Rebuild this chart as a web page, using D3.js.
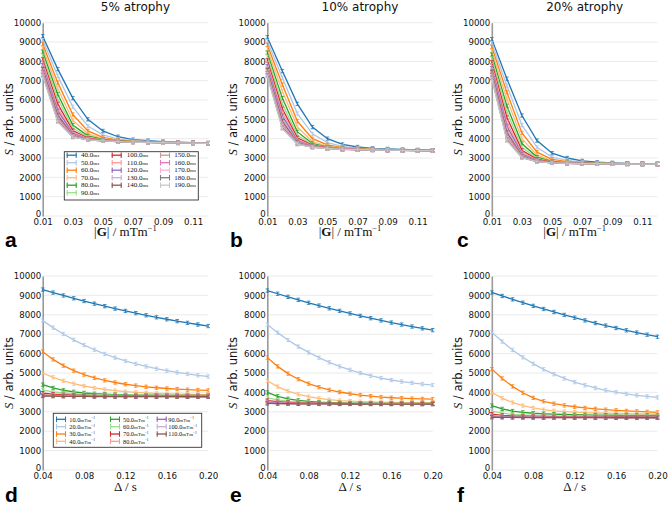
<!DOCTYPE html>
<html><head><meta charset="utf-8">
<script src="https://cdn.jsdelivr.net/npm/d3@7"></script>
<style>body{margin:0;background:#fff}svg{display:block}</style>
</head><body>
<svg id="chart" width="668" height="506"></svg>
<script>
// ---------- data ----------
const gradientValues = [0.01,0.02,0.03,0.04,0.05,0.06,0.07,0.08,0.09,0.10,0.11,0.12];
const deltaValues = [0.04,0.05,0.06,0.07,0.08,0.09,0.10,0.11,0.12,0.13,0.14,0.15,0.16,0.17,0.18,0.19,0.20];
const echoTimes = [40,50,60,70,80,90,100,110,120,130,140,150,160,170,180,190];
const gradientLabels = [10,20,30,40,50,60,70,80,90,100,110];
const yTicks = [0,1000,2000,3000,4000,5000,6000,7000,8000,9000,10000];
const gradTicks = [0.01,0.03,0.05,0.07,0.09,0.11];
const deltaTicks = [0.04,0.08,0.12,0.16,0.20];
const titles = ["5% atrophy","10% atrophy","20% atrophy"];
const errorHalf = 85;
const palette = ["#1f77b4","#aec7e8","#ff7f0e","#ffbb78","#2ca02c","#98df8a","#d62728","#ff9896",
                 "#9467bd","#c5b0d5","#8c564b","#c49c94","#e377c2","#f7b6d2","#7f7f7f","#c7c7c7"];

// S vs |G|, one row per echo time (5% atrophy)
const sigG5 = [
 [9300,7600,6100,5000,4400,4100,3950,3900,3850,3820,3800,3780],
 [9100,7250,5650,4650,4200,3980,3900,3860,3830,3810,3790,3775],
 [8900,6900,5250,4400,4070,3930,3870,3840,3820,3800,3785,3775],
 [8700,6600,4950,4250,4000,3900,3860,3830,3810,3795,3782,3772],
 [8500,6300,4700,4150,3960,3885,3850,3825,3805,3790,3780,3770],
 [8300,6050,4550,4080,3940,3875,3845,3820,3800,3788,3778,3770],
 [8100,5800,4420,4030,3925,3870,3840,3815,3798,3786,3776,3768],
 [7950,5600,4330,4000,3915,3865,3835,3812,3796,3784,3775,3768],
 [7800,5450,4260,3980,3905,3860,3832,3810,3795,3783,3774,3767],
 [7700,5300,4210,3965,3900,3857,3830,3808,3793,3782,3773,3767],
 [7600,5200,4170,3955,3895,3855,3828,3807,3792,3781,3772,3766],
 [7500,5100,4140,3950,3892,3853,3826,3806,3791,3780,3772,3766],
 [7420,5020,4120,3945,3890,3852,3825,3805,3790,3780,3771,3765],
 [7350,4960,4100,3940,3888,3851,3824,3804,3790,3779,3771,3765],
 [7300,4910,4090,3938,3887,3850,3823,3804,3789,3779,3770,3765],
 [7250,4870,4080,3936,3886,3850,3823,3803,3789,3778,3770,3764]
];
const sigG10 = [
 [9250,7500,5800,4600,4000,3700,3570,3500,3470,3440,3420,3400],
 [9050,7150,5300,4250,3800,3600,3510,3470,3445,3425,3410,3395],
 [8850,6800,4900,4000,3680,3540,3480,3450,3430,3415,3402,3392],
 [8650,6450,4600,3850,3610,3510,3465,3440,3422,3410,3398,3390],
 [8450,6100,4350,3750,3570,3490,3455,3433,3418,3406,3396,3388],
 [8250,5800,4180,3690,3545,3478,3448,3428,3414,3403,3394,3387],
 [8050,5550,4050,3650,3530,3470,3443,3425,3412,3401,3392,3386],
 [7900,5350,3960,3625,3520,3465,3440,3422,3410,3400,3391,3385],
 [7750,5180,3890,3605,3512,3461,3437,3420,3408,3399,3390,3385],
 [7650,5030,3840,3590,3506,3458,3435,3419,3407,3398,3390,3384],
 [7550,4900,3800,3580,3502,3456,3433,3418,3406,3397,3389,3384],
 [7460,4790,3770,3572,3499,3454,3432,3417,3405,3396,3389,3383],
 [7380,4700,3750,3566,3497,3453,3431,3416,3405,3396,3388,3383],
 [7320,4630,3735,3562,3495,3452,3430,3415,3404,3395,3388,3383],
 [7270,4570,3722,3559,3494,3451,3430,3415,3404,3395,3388,3382],
 [7220,4520,3712,3556,3493,3450,3429,3414,3403,3395,3387,3382]
];
const sigG20 = [
 [9150,7100,5200,3900,3250,3000,2850,2780,2750,2720,2710,2700],
 [8950,6750,4700,3550,3050,2880,2790,2750,2730,2712,2702,2695],
 [8750,6400,4300,3300,2930,2810,2760,2735,2720,2706,2698,2692],
 [8550,6050,4000,3150,2860,2775,2745,2727,2714,2702,2695,2690],
 [8350,5700,3750,3050,2820,2755,2735,2720,2710,2700,2693,2688],
 [8150,5400,3550,2980,2795,2745,2728,2716,2706,2698,2691,2687],
 [7950,5100,3400,2930,2780,2738,2723,2713,2704,2696,2690,2686],
 [7800,4850,3280,2895,2770,2733,2720,2711,2702,2695,2689,2685],
 [7650,4650,3200,2870,2763,2730,2718,2709,2701,2694,2688,2685],
 [7550,4480,3140,2852,2758,2728,2716,2708,2700,2693,2688,2684],
 [7450,4330,3100,2840,2754,2726,2715,2707,2700,2693,2687,2684],
 [7350,4200,3070,2830,2751,2724,2714,2706,2699,2692,2687,2684],
 [7270,4100,3050,2823,2749,2723,2713,2705,2699,2692,2687,2683],
 [7200,4020,3035,2818,2747,2722,2712,2705,2698,2692,2686,2683],
 [7150,3950,3022,2814,2746,2721,2712,2704,2698,2691,2686,2683],
 [7100,3890,3012,2811,2745,2720,2711,2704,2698,2691,2686,2683]
];
// S vs Delta, one row per gradient strength
const sigD5 = [
 [9300,9145,8995,8850,8710,8575,8445,8320,8200,8085,7975,7870,7770,7675,7585,7500,7420],
 [7700,7340,7010,6710,6440,6200,5980,5790,5620,5470,5340,5220,5120,5030,4950,4880,4820],
 [6100,5700,5380,5120,4920,4750,4620,4510,4420,4350,4290,4240,4200,4170,4140,4120,4100],
 [5000,4780,4600,4450,4330,4230,4150,4090,4040,4000,3970,3950,3930,3915,3905,3895,3890],
 [4400,4230,4110,4030,3970,3930,3905,3885,3870,3862,3856,3852,3849,3847,3845,3844,3843],
 [4120,4030,3970,3930,3900,3880,3866,3856,3849,3844,3840,3837,3835,3833,3832,3831,3830],
 [3960,3910,3880,3860,3845,3835,3828,3823,3819,3816,3814,3812,3811,3810,3809,3808,3808],
 [3890,3860,3842,3830,3822,3816,3811,3808,3805,3803,3801,3800,3799,3798,3797,3797,3796],
 [3850,3832,3820,3812,3806,3802,3799,3796,3794,3792,3791,3790,3789,3788,3788,3787,3787],
 [3830,3817,3808,3802,3797,3794,3791,3789,3787,3786,3785,3784,3783,3782,3782,3781,3781],
 [3815,3806,3799,3794,3790,3787,3785,3783,3782,3781,3780,3779,3778,3778,3777,3777,3776]
];
const sigD10 = [
 [9250,9085,8925,8770,8620,8475,8335,8200,8070,7945,7825,7710,7600,7495,7395,7300,7210],
 [7500,7080,6700,6360,6060,5790,5550,5340,5160,5000,4860,4740,4640,4560,4490,4430,4380],
 [5800,5340,4970,4680,4450,4270,4130,4020,3930,3860,3805,3760,3725,3700,3680,3665,3655],
 [4600,4300,4070,3900,3780,3690,3625,3580,3548,3525,3508,3496,3487,3480,3475,3471,3468],
 [4000,3800,3670,3590,3535,3500,3478,3463,3452,3445,3440,3436,3433,3431,3429,3428,3427],
 [3720,3610,3545,3505,3478,3461,3450,3442,3436,3432,3429,3427,3425,3424,3423,3422,3421],
 [3580,3520,3485,3463,3449,3440,3433,3428,3425,3422,3420,3419,3418,3417,3416,3415,3415],
 [3510,3475,3455,3442,3433,3427,3423,3420,3417,3415,3414,3413,3412,3411,3410,3410,3409],
 [3470,3450,3437,3428,3422,3418,3415,3413,3411,3410,3409,3408,3407,3406,3406,3405,3405],
 [3445,3432,3424,3418,3414,3411,3409,3407,3406,3405,3404,3403,3402,3402,3401,3401,3400],
 [3430,3421,3415,3411,3408,3406,3404,3403,3402,3401,3400,3399,3399,3398,3398,3397,3397]
];
const sigD20 = [
 [9150,8970,8795,8625,8460,8300,8145,7995,7850,7710,7575,7445,7320,7200,7085,6975,6870],
 [7100,6620,6190,5810,5480,5190,4940,4720,4530,4370,4230,4110,4010,3920,3850,3790,3740],
 [5200,4720,4310,3980,3720,3540,3420,3330,3260,3200,3150,3110,3075,3045,3020,2995,2970],
 [4000,3700,3480,3320,3200,3110,3050,3010,2980,2955,2938,2925,2915,2906,2898,2892,2885],
 [3320,3150,3040,2970,2925,2895,2875,2860,2848,2840,2833,2827,2822,2818,2815,2812,2810],
 [3030,2930,2870,2835,2812,2797,2787,2780,2775,2771,2768,2765,2763,2761,2760,2759,2758],
 [2880,2820,2790,2772,2760,2752,2746,2742,2739,2737,2735,2734,2733,2732,2731,2730,2730],
 [2800,2770,2752,2741,2734,2729,2726,2723,2721,2720,2719,2718,2717,2716,2716,2715,2715],
 [2760,2742,2731,2724,2719,2716,2713,2711,2710,2709,2708,2707,2706,2706,2705,2705,2705],
 [2735,2724,2717,2712,2709,2706,2704,2703,2702,2701,2700,2699,2699,2698,2698,2698,2697],
 [2720,2713,2708,2705,2702,2700,2699,2698,2697,2696,2695,2695,2694,2694,2694,2693,2693]
];

// ---------- layout ----------
const svg = d3.select("#chart");
const cols = [{x0:42.7,x1:208.2,letterX:5},{x0:267.3,x1:432.7,letterX:230},{x0:491.8,x1:657.5,letterX:457}];
const rows = [{y0:216,y1:22.7,letterY:247,labelDy:20},{y0:470,y1:276,letterY:501.5,labelDy:21}];
const sans = "DejaVu Sans, Verdana, sans-serif";
const serif = "Liberation Serif, Times New Roman, serif";

const panels = [];
[sigG5,sigG10,sigG20].forEach((s,i)=>panels.push({series:s, xs:gradientValues, dom:[0.01,0.12], ticks:gradTicks, col:cols[i], row:rows[0], title:titles[i], letter:"abc"[i], kind:"G", legend:i===0}));
[sigD5,sigD10,sigD20].forEach((s,i)=>panels.push({series:s, xs:deltaValues, dom:[0.04,0.20], ticks:deltaTicks, col:cols[i], row:rows[1], title:null, letter:"def"[i], kind:"D", legend:i===0}));

panels.forEach(p=>{
  const {x0,x1,letterX} = p.col, {y0,y1,letterY,labelDy} = p.row;
  const x = d3.scaleLinear().domain(p.dom).range([x0,x1]);
  const y = d3.scaleLinear().domain([0,10000]).range([y0,y1]);
  const g = svg.append("g");

  // grid
  g.append("g").selectAll("line").data(yTicks).join("line")
    .attr("x1",x0).attr("x2",x1).attr("y1",d=>y(d)).attr("y2",d=>y(d))
    .attr("stroke","#e8e8e8").attr("stroke-width",0.9);

  // y axis
  const ya = g.append("g").attr("transform",`translate(${x0},0)`)
    .call(d3.axisLeft(y).tickValues(yTicks).tickSize(0).tickSizeOuter(0).tickPadding(1.5).tickFormat(d3.format("d")));
  ya.select(".domain").attr("stroke","#9a9a9a").attr("stroke-width",1.6);
  ya.selectAll("text").attr("font-family",sans).attr("font-size",8.6).attr("fill","#111");
  ya.selectAll(".tick").filter(d=>d===0).select("text").attr("dy","0.1em");

  // x axis
  const xa = g.append("g").attr("transform",`translate(0,${y0})`)
    .call(d3.axisBottom(x).tickValues(p.ticks).tickSize(0).tickSizeOuter(0).tickPadding(2.5).tickFormat(d3.format(".2f")));
  xa.select(".domain").remove();
  xa.selectAll("text").attr("font-family",sans).attr("font-size",8.7).attr("fill","#111");

  // series
  const line = d3.line().x(d=>x(d[0])).y(d=>y(d[1]));
  p.series.forEach((vals,si)=>{
    const pts = vals.map((v,k)=>[p.xs[k],v]);
    const c = palette[si];
    const sg = g.append("g");
    sg.append("path").attr("d",line(pts)).attr("fill","none").attr("stroke",c).attr("stroke-width",1.3);
    sg.selectAll("line.eb").data(pts).join("line").attr("class","eb")
      .attr("x1",d=>x(d[0])).attr("x2",d=>x(d[0]))
      .attr("y1",d=>y(d[1]-errorHalf)).attr("y2",d=>y(d[1]+errorHalf))
      .attr("stroke",c).attr("stroke-width",0.9);
    sg.selectAll("line.capT").data(pts).join("line").attr("class","capT")
      .attr("x1",d=>x(d[0])-1.8).attr("x2",d=>x(d[0])+1.8)
      .attr("y1",d=>y(d[1]+errorHalf)).attr("y2",d=>y(d[1]+errorHalf))
      .attr("stroke",c).attr("stroke-width",0.8);
    sg.selectAll("line.capB").data(pts).join("line").attr("class","capB")
      .attr("x1",d=>x(d[0])-1.8).attr("x2",d=>x(d[0])+1.8)
      .attr("y1",d=>y(d[1]-errorHalf)).attr("y2",d=>y(d[1]-errorHalf))
      .attr("stroke",c).attr("stroke-width",0.8);
  });

  // title
  if (p.title) g.append("text").attr("x",(x0+x1)/2+10).attr("y",11).attr("text-anchor","middle")
    .attr("font-family",sans).attr("font-size",12).attr("fill","#111").text(p.title);

  // y label
  const yl = g.append("text").attr("transform",`translate(${x0-34},${(y0+y1)/2}) rotate(-90)`)
    .attr("text-anchor","middle").attr("dominant-baseline","central")
    .attr("font-family",sans).attr("font-size",11.5).attr("fill","#111");
  yl.append("tspan").attr("font-style","italic").attr("font-family",serif).attr("font-size",12.5).text("S");
  yl.append("tspan").text(" / arb. units");

  // x label
  const xl = g.append("text").attr("x",(x0+x1)/2).attr("y",y0+labelDy).attr("text-anchor","middle")
    .attr("font-family",serif).attr("font-size",13).attr("fill","#111");
  if (p.kind==="G"){
    xl.append("tspan").text("|");
    xl.append("tspan").attr("font-weight","bold").text("G");
    xl.append("tspan").text("| / mTm");
    xl.append("tspan").attr("font-size",8.5).attr("dy",-5).text("−1");
  } else {
    xl.append("tspan").text("Δ / s");
  }

  // panel letter
  g.append("text").attr("x",letterX).attr("y",letterY).attr("font-family","Liberation Sans, Arial, sans-serif")
    .attr("font-weight","bold").attr("font-size",21).attr("fill","#000").text(p.letter);

  // legend
  if (p.legend){
    const isG = p.kind==="G";
    const box = isG ? {x:64.3,y:151.7,w:134,h:48.3} : {x:53.3,y:413.3,w:148.4,h:34};
    const colX = isG ? [66.7,111.7,160] : [56,110,156.7];
    const textX = isG ? [81,126.7,174.3] : [69.3,123,168.3];
    const perCol = isG ? [6,5,5] : [4,4,3];
    const rowY0 = isG ? 155.2 : 419.3, rowStep = isG ? 7.5 : 7.35;
    const labels = isG ? echoTimes : gradientLabels;
    const lg = g.append("g");
    lg.append("rect").attr("x",box.x).attr("y",box.y).attr("width",box.w).attr("height",box.h)
      .attr("fill","#fff").attr("stroke","#333").attr("stroke-width",0.9);
    let idx = 0;
    perCol.forEach((n,ci)=>{
      for (let r=0;r<n;r++,idx++){
        const c = palette[idx], yy = rowY0 + r*rowStep, hx = colX[ci];
        lg.append("line").attr("x1",hx).attr("x2",hx+10).attr("y1",yy).attr("y2",yy).attr("stroke",c).attr("stroke-width",1.3);
        lg.append("line").attr("x1",hx+0.5).attr("x2",hx+0.5).attr("y1",yy-2.8).attr("y2",yy+2.8).attr("stroke",c).attr("stroke-width",1.1);
        lg.append("line").attr("x1",hx+9.5).attr("x2",hx+9.5).attr("y1",yy-2.8).attr("y2",yy+2.8).attr("stroke",c).attr("stroke-width",1.1);
        const t = lg.append("text").attr("x",textX[ci]).attr("y",yy+2.2).attr("font-family",serif).attr("fill","#111");
        t.append("tspan").attr("font-size",isG?7:6.3).text(labels[idx].toFixed(1));
        if (isG){ t.append("tspan").attr("font-size",5).text("ms"); }
        else {
          t.append("tspan").attr("font-size",5).text("mTm");
          t.append("tspan").attr("font-size",3.5).attr("dy",-2.2).text("−1");
        }
      }
    });
  }
});
</script>
</body></html>
